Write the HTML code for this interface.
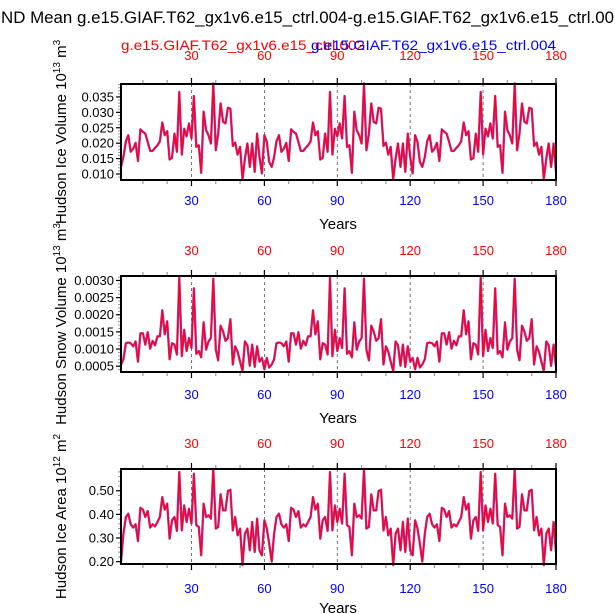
<!DOCTYPE html>
<html><head><meta charset="utf-8"><style>
body{margin:0;background:#fff}
svg{display:block;font-family:"Liberation Sans",Arial,sans-serif}
</style></head><body>
<svg id="c" width="615" height="614" viewBox="0 0 615 614">
<text x="1" y="23" font-size="17" textLength="613" lengthAdjust="spacingAndGlyphs">ND Mean g.e15.GIAF.T62_gx1v6.e15_ctrl.004-g.e15.GIAF.T62_gx1v6.e15_ctrl.00</text>
<text x="121" y="50" font-size="14" fill="#ff0000" textLength="244" lengthAdjust="spacingAndGlyphs">g.e15.GIAF.T62_gx1v6.e15_ctrl.002</text>
<text x="311" y="50" font-size="14" fill="#0000ff" textLength="245" lengthAdjust="spacingAndGlyphs">g.e15.GIAF.T62_gx1v6.e15_ctrl.004</text>
</svg>
<script>
// one 62-year forcing cycle per variable (repeated in data)
const iceVolCycle=[0.0123,0.0155,0.0206,0.0226,0.0172,0.0182,0.0201,0.0142,0.0245,0.0237,0.0231,0.0204,0.0175,0.0175,0.0185,0.0193,0.0206,0.0267,0.0226,0.0239,0.0147,0.0152,0.0231,0.0172,0.0366,0.0163,0.0247,0.0222,0.0264,0.0215,0.0353,0.0188,0.0193,0.0104,0.0302,0.0242,0.0226,0.0199,0.0394,0.0177,0.0231,0.0329,0.0269,0.0264,0.0315,0.0312,0.0191,0.0202,0.0163,0.0188,0.0083,0.0150,0.0199,0.0123,0.0199,0.0107,0.0231,0.0155,0.0102,0.0226,0.0204,0.0139];
const snowVolCycle=[0.00055,0.00070,0.00117,0.00119,0.00117,0.00108,0.00122,0.00063,0.00146,0.00146,0.00113,0.00149,0.00101,0.00124,0.00111,0.00137,0.00137,0.00213,0.00143,0.00181,0.00070,0.00117,0.00113,0.00084,0.00308,0.00079,0.00156,0.00094,0.00132,0.00103,0.00277,0.00086,0.00094,0.00076,0.00178,0.00098,0.00122,0.00132,0.00305,0.00098,0.00067,0.00168,0.00151,0.00124,0.00132,0.00187,0.00055,0.00108,0.00092,0.00063,0.00036,0.00122,0.00111,0.00051,0.00113,0.00048,0.00108,0.00063,0.00074,0.00041,0.00074,0.00046];
const iceAreaCycle=[0.200,0.318,0.389,0.403,0.358,0.344,0.358,0.287,0.428,0.420,0.389,0.414,0.344,0.358,0.349,0.368,0.389,0.473,0.420,0.445,0.297,0.375,0.389,0.330,0.579,0.332,0.438,0.368,0.424,0.361,0.572,0.354,0.347,0.227,0.445,0.389,0.396,0.382,0.593,0.340,0.347,0.485,0.417,0.417,0.499,0.504,0.332,0.389,0.311,0.340,0.185,0.318,0.340,0.248,0.368,0.241,0.382,0.248,0.227,0.375,0.340,0.276];
const xTicks=[30,60,90,120,150,180];
const iceVolTicks=[0.010,0.015,0.020,0.025,0.030,0.035];
const iceVolTickLabels=["0.010","0.015","0.020","0.025","0.030","0.035"];
const snowTicks=[0.0005,0.0010,0.0015,0.0020,0.0025,0.0030];
const snowTickLabels=["0.0005","0.0010","0.0015","0.0020","0.0025","0.0030"];
const areaTicks=[0.20,0.30,0.40,0.50];
const areaTickLabels=["0.20","0.30","0.40","0.50"];

function full(c){return c.concat(c,c).slice(0,180);}
const iceVol004=full(iceVolCycle), iceVol002=full(iceVolCycle);
const snow004=full(snowVolCycle), snow002=full(snowVolCycle);
const area004=full(iceAreaCycle), area002=full(iceAreaCycle);

const NS="http://www.w3.org/2000/svg";
const svg=document.getElementById('c');
function mk(t,a,p){const e=document.createElementNS(NS,t);for(const k in a)e.setAttribute(k,a[k]);(p||svg).appendChild(e);return e;}
const X0=121,X1=556;
function xs(yr){return X0+(yr-1)*(X1-X0)/179;}

const panels=[
 {name:'ice-volume',top:84,bot:180,ymin:0.00805,ymax:0.0392,ticks:iceVolTicks,labels:iceVolTickLabels,minor:0.001,s4:iceVol004,s2:iceVol002,title:['Hudson Ice Volume 10','13',' m','3'],topLab:60,botLab:205,years:229},
 {name:'snow-volume',top:276,bot:372,ymin:0.00033,ymax:0.00313,ticks:snowTicks,labels:snowTickLabels,minor:0.0001,s4:snow004,s2:snow002,title:['Hudson Snow Volume 10','13',' m','3'],topLab:255,botLab:399,years:423},
 {name:'ice-area',top:469,bot:564,ymin:0.190,ymax:0.592,ticks:areaTicks,labels:areaTickLabels,minor:0.02,s4:area004,s2:area002,title:['Hudson Ice Area 10','12',' m','2'],topLab:448,botLab:593,years:613}
];
panels.forEach(P=>{
 const g=mk('g',{});
 
 
 const ys=v=>P.bot-(v-P.ymin)/(P.ymax-P.ymin)*(P.bot-P.top);
 xTicks.slice(0,5).forEach(t=>{const l=mk('line',{x1:xs(t),x2:xs(t),y1:P.top,y2:P.bot,stroke:'#555','stroke-width':0.8,'stroke-dasharray':'3,3'},g);
  
  });
 for(let t=10;t<=180;t+=10){const maj=t%30===0;const len=maj?6:4;const col=maj?'#000':'#999';
  mk('line',{x1:xs(t),x2:xs(t),y1:P.top,y2:P.top-len,stroke:col,'stroke-width':1.2},g);
  mk('line',{x1:xs(t),x2:xs(t),y1:P.bot,y2:P.bot+len,stroke:col,'stroke-width':1.2},g);}
 xTicks.forEach(t=>{
  const a=mk('text',{x:xs(t),y:P.topLab,'font-size':13,fill:'#ff0000','text-anchor':'middle'},g);a.textContent=t;
  
  
  const b=mk('text',{x:xs(t),y:P.botLab,'font-size':13,fill:'#0000ff','text-anchor':'middle'},g);b.textContent=t;
  
  });
 for(let v=Math.ceil(P.ymin/P.minor)*P.minor;v<=P.ymax;v+=P.minor){mk('line',{x1:X0,x2:X0-3,y1:ys(v),y2:ys(v),stroke:'#999','stroke-width':1},g);}
 P.ticks.forEach((v,i)=>{mk('line',{x1:X0,x2:X0-5,y1:ys(v),y2:ys(v),stroke:'#000','stroke-width':1.2},g);
  const t=mk('text',{x:X0-7,y:ys(v)+4.5,'font-size':13,'text-anchor':'end'},g);t.textContent=P.labels[i];
  
  });
 const pts=s=>s.map((v,i)=>xs(i+1).toFixed(1)+','+ys(v).toFixed(1)).join(' ');
 const l4=mk('polyline',{points:pts(P.s4),fill:'none',stroke:'#8a4fd0','stroke-width':2.4,'stroke-linejoin':'round'},g);
 
 
 const l2=mk('polyline',{points:pts(P.s2),fill:'none',stroke:'#ff0022','stroke-width':1.5,'stroke-linejoin':'round'},g);
 
 
 const fr=mk('rect',{x:X0,y:P.top,width:X1-X0,height:P.bot-P.top,fill:'none',stroke:'#000','stroke-width':2},g);
 
 
 const yl=mk('text',{x:338,y:P.years,'font-size':15,'text-anchor':'middle'},g);yl.textContent='Years';
 
 
 const cy=(P.top+P.bot)/2;
 const tt=mk('text',{x:0,y:0,'font-size':15,'text-anchor':'middle',transform:`translate(66,${cy}) rotate(-90)`},g);
 
 
 P.title.forEach((s,i)=>{const sp=mk('tspan',{},tt);sp.textContent=s;
  if(i%2===1){sp.setAttribute('font-size','10');sp.setAttribute('dy','-6');}
  else if(i>0){sp.setAttribute('dy','6');}});
});
</script>
</body></html>
